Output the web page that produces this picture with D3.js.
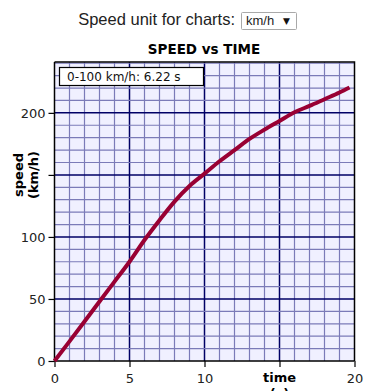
<!DOCTYPE html>
<html>
<head>
<meta charset="utf-8">
<script src="https://cdn.jsdelivr.net/npm/d3@7"></script>
<style>
  body { margin: 0; background: #fff; }
</style>
</head>
<body>
<svg width="383" height="391"></svg>
<script>
// data
const times  = [0, 1, 2, 3, 4, 5, 6, 7, 8, 9, 10, 11, 12, 13, 14, 15, 16, 17, 18, 19, 19.67];
const speeds = [0, 15.8, 31.8, 48, 64, 80, 97.5, 113.5, 128.5, 141, 151, 161, 170, 179, 186.5, 193.5, 200.5, 205.6, 211, 216.4, 220.4];
const xTicks = [0, 5, 10, 20];
const yTicks = [0, 50, 100, 200];
const title = 'SPEED vs TIME';
const note = '0-100 km/h: 6.22 s';

const svg = d3.select('svg');

//margin conventions
const margin = {top: 62, left: 54.5, right: 28.5, bottom: 30};
const x = d3.scaleLinear().domain([0, 20]).range([margin.left, 383 - margin.right]);
const y = d3.scaleLinear().domain([0, 241]).range([361, margin.top]);

const verdana = 'DejaVu Sans, Verdana';

// header with the unit picker
svg.append('text')
  .text('Speed unit for charts:')
  .attr('x', 235).attr('y', 25)
  .attr('text-anchor', 'end')
  .style('font-family', 'Liberation Sans, Arial')
  .style('font-size', '16.5px')
  .attr('fill', '#222');

svg.append('rect')
  .attr('x', 241.5).attr('y', 12.5).attr('width', 55).attr('height', 17)
  .attr('fill', '#fff').attr('stroke', '#a9a9a9').attr('rx', 1);
svg.append('text').text('km/h')
  .attr('x', 246).attr('y', 25)
  .style('font-family', 'Liberation Sans, Arial').style('font-size', '13px')
  .attr('fill', '#222');
svg.append('text').text('▼')
  .attr('x', 283).attr('y', 24)
  .style('font-family', 'DejaVu Sans').style('font-size', '9px')
  .attr('fill', '#111');

// title
svg.append('text').text(title)
  .attr('x', 204).attr('y', 54)
  .attr('text-anchor', 'middle')
  .style('font-family', verdana).style('font-size', '13.5px').style('font-weight', 'bold')
  .attr('fill', '#000');

// plot background
const [x0, x1] = x.range();
const [yb, yt] = y.range();
svg.append('rect')
  .attr('x', x0).attr('y', yt).attr('width', x1 - x0).attr('height', yb - yt)
  .attr('fill', '#f0f0ff');

// grid
const g = svg.append('g');
g.selectAll('.vx').data(d3.range(1, 20))
  .enter().append('line')
  .attr('x1', d => x(d)).attr('x2', d => x(d))
  .attr('y1', yt).attr('y2', yb)
  .attr('stroke', d => d % 5 === 0 ? '#000066' : '#7b7bb8')
  .attr('stroke-width', d => d % 5 === 0 ? 1.5 : 1.2);

g.selectAll('.hy').data(d3.range(10, 241, 10))
  .enter().append('line')
  .attr('x1', x0).attr('x2', x1)
  .attr('y1', d => y(d)).attr('y2', d => y(d))
  .attr('stroke', d => d % 50 === 0 ? '#000066' : '#7b7bb8')
  .attr('stroke-width', d => d % 50 === 0 ? 1.5 : 1.2);

// frame top + right
svg.append('path')
  .attr('d', `M${x0},${yt}H${x1}V${yb}`)
  .attr('fill', 'none').attr('stroke', '#000').attr('stroke-width', 1.5);

// axes
const xAxis = svg.append('g')
  .attr('transform', `translate(0,${yb})`)
  .call(d3.axisBottom(x).tickValues([0, 5, 10, 15, 20]).tickFormat(d => xTicks.includes(d) ? d : '').tickSizeOuter(0).tickSize(6));
const yAxis = svg.append('g')
  .attr('transform', `translate(${x0},0)`)
  .call(d3.axisLeft(y).tickValues([0, 50, 100, 150, 200]).tickFormat(d => yTicks.includes(d) ? d : '').tickSizeOuter(0).tickSize(6));

[xAxis, yAxis].forEach(a => {
  a.select('.domain').attr('stroke', '#000').attr('stroke-width', 1.5);
  a.selectAll('.tick line').attr('stroke', '#000').attr('stroke-width', 1.2);
  a.selectAll('.tick text')
    .style('font-family', verdana).style('font-size', '13px').attr('fill', '#222');
});
xAxis.selectAll('.tick text').attr('dy', '1.0em');
xAxis.select('.domain').attr('d', `M${x0},0H${x1}`);
yAxis.select('.domain').attr('d', `M0,${yb}V${yt}`);

// axis labels
svg.append('text')
  .attr('transform', `translate(23,175) rotate(-90)`)
  .attr('text-anchor', 'middle')
  .style('font-family', verdana).style('font-size', '13px').style('font-weight', 'bold')
  .text('speed');
svg.append('text')
  .attr('transform', `translate(38,175) rotate(-90)`)
  .attr('text-anchor', 'middle')
  .style('font-family', verdana).style('font-size', '13px').style('font-weight', 'bold')
  .text('(km/h)');
svg.append('text')
  .attr('x', x(15)).attr('y', 382)
  .attr('text-anchor', 'middle')
  .style('font-family', verdana).style('font-size', '13px').style('font-weight', 'bold')
  .text('time');
svg.append('text')
  .attr('x', x(15)).attr('y', 398)
  .attr('text-anchor', 'middle')
  .style('font-family', verdana).style('font-size', '13px').style('font-weight', 'bold')
  .text('(s)');

// speed curve
const line = d3.line()
  .x((d, i) => x(times[i]))
  .y(d => y(d))
  .curve(d3.curveMonotoneX);
svg.append('path')
  .datum(speeds)
  .attr('d', line)
  .attr('fill', 'none')
  .attr('stroke', '#990033')
  .attr('stroke-width', 4);

// note box
svg.append('rect')
  .attr('x', 59.5).attr('y', 67.5).attr('width', 144).attr('height', 18)
  .attr('fill', '#fff').attr('stroke', '#000').attr('stroke-width', 1.2);
svg.append('text').text(note)
  .attr('x', 67).attr('y', 81)
  .style('font-family', verdana).style('font-size', '12px')
  .attr('fill', '#111');
</script>
</body>
</html>
